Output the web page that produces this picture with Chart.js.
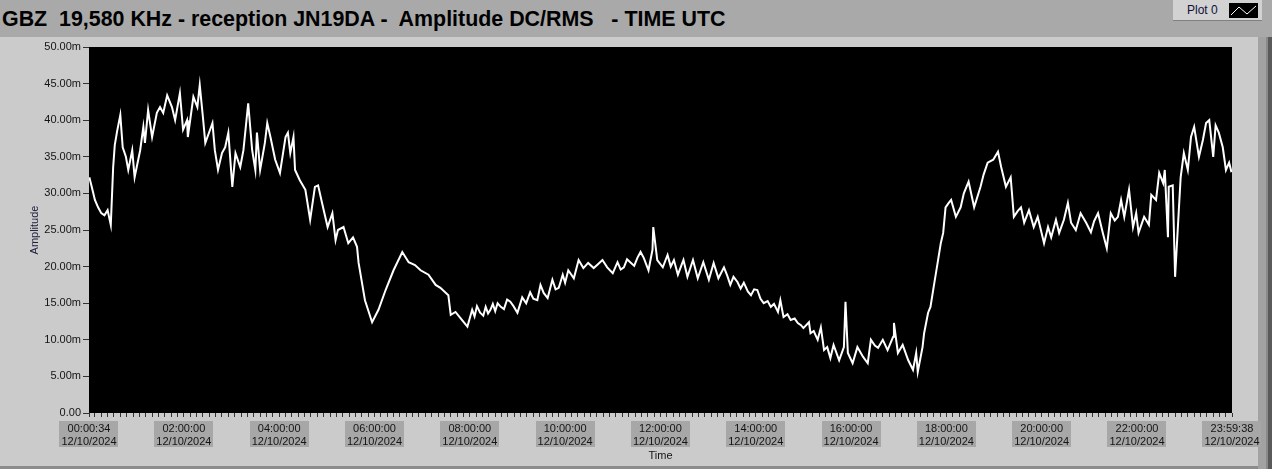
<!DOCTYPE html>
<html>
<head>
<meta charset="utf-8">
<script src="https://cdn.jsdelivr.net/npm/chart.js@4"></script>
<style>
  body { margin: 0; width: 1272px; height: 469px; background: #a9a9a9; position: relative; overflow: hidden; font-family: "Liberation Sans", Arial, sans-serif; }
  #title { position: absolute; left: 2px; top: 7px; font-weight: bold; font-size: 21.4px; color: #000; white-space: pre; }
  #legend { position: absolute; left: 1173px; top: 0; width: 89px; height: 20px; background: #d2d2d2; border-bottom: 1px solid #808080; }
  #legend span { position: absolute; left: 14px; top: 3px; font-size: 12px; color: #10103a; }
  #legend svg { position: absolute; left: 56px; top: 3px; }
  #panel { position: absolute; left: 0; top: 37px; width: 1258px; height: 429px; background: #cbcbcb; border-bottom: 3px solid #8c8c8c; }
  #rstrip { position: absolute; left: 1258px; top: 37px; width: 14px; height: 432px; background: linear-gradient(to right, #a2a2a2 0, #a2a2a2 8px, #8a8a8a 8px, #8a8a8a 10px, #5a5a5a 10px); }
  #chart { position: absolute; left: 0; top: 37px; }
</style>
</head>
<body>
<div id="title">GBZ  19,580 KHz - reception JN19DA -  Amplitude DC/RMS   - TIME UTC</div>
<div id="legend"><span>Plot 0</span><svg width="29" height="15"><rect width="29" height="15" fill="#000"/><polyline points="2,12 10,4 18,11 27,3" fill="none" stroke="#fff" stroke-width="1"/></svg></div>
<div id="panel"></div>
<div id="rstrip"></div>
<canvas id="chart" width="1272" height="432"></canvas>
<script>
// sample times in minutes after midnight UTC, 12/10/2024
var minutes = [1, 4, 8, 12, 16, 20, 24, 28, 31, 33, 36, 40, 43, 47, 50, 55, 58, 65, 69, 71, 75, 80, 86, 90, 94, 99,
  105, 109, 115, 119, 124, 125, 132, 137, 140, 144, 147, 153, 156, 159, 163, 168, 172, 176, 181, 185, 191, 195,
  201, 206, 210, 212, 216, 222, 225, 229, 235, 241, 248, 251, 254, 258, 260, 266, 273, 279, 285, 289, 294,
  301, 307, 311, 314, 321, 327, 333, 338, 340, 348, 357, 365, 374, 384, 395, 403, 411, 418, 428, 437, 443,
  453, 456, 462, 468, 477, 483, 486, 489, 493, 497, 500, 503, 506, 509, 512, 515, 519, 523, 527, 531, 535,
  540, 546, 551, 556, 560, 565, 569, 573, 578, 584, 588, 592, 597, 600, 604, 611, 617,
  623, 629, 636, 641, 647, 653, 660, 666, 670, 674, 678, 682, 687, 691, 695, 699, 705, 710, 711, 716, 723, 729, 733, 737, 742, 749,
  754, 761, 767, 774, 781, 787, 793, 800, 804, 808, 812, 817, 821, 825, 830, 834, 838, 842, 846, 850, 855, 859, 863, 868, 871, 875, 880, 884, 889, 893, 897, 900,
  907, 909, 913, 918, 922, 926, 930, 934, 938, 945, 951, 953, 956, 962, 968, 975, 981, 985, 990, 994, 1000, 1006, 1013,
  1014, 1019, 1025, 1032, 1038, 1042, 1044, 1050, 1052, 1057, 1060, 1064, 1069, 1073, 1076, 1079, 1083, 1086,
  1092, 1098, 1102, 1108, 1115, 1123, 1127, 1132, 1139, 1145, 1149, 1155, 1161, 1165, 1170, 1174, 1178, 1184, 1190,
  1195, 1199, 1203, 1208, 1212, 1218, 1222, 1228, 1233, 1237, 1243, 1249, 1256, 1262, 1266, 1271, 1277, 1282,
  1287, 1292, 1296, 1300, 1304, 1310, 1315, 1319, 1322, 1329, 1335, 1338, 1344, 1348, 1353, 1355, 1359, 1360,
  1365, 1368, 1372, 1375, 1379, 1384, 1388, 1392, 1398, 1403, 1407, 1411, 1416, 1419, 1423, 1428, 1432,
  1436, 1439];
// amplitude in mV
var amplitude = [32.2, 30.9, 29.1, 28.1, 27.3, 27.0, 27.7, 25.7, 33.6, 36.6, 38.5, 40.7, 36.3, 35.0, 33.2, 35.9, 32.2, 35.9, 39.1, 36.9, 41.4, 37.7, 41.0, 41.8, 41.0, 43.4,
  41.8, 40.0, 43.7, 38.7, 40.0, 37.7, 43.2, 41.8, 44.8, 40.4, 36.9, 38.7, 39.6, 35.9, 33.2, 35.5, 36.3, 38.3, 30.9, 35.5, 33.6, 35.9,
  42.3, 35.9, 33.2, 38.3, 33.2, 36.9, 39.6, 37.7, 34.6, 32.8, 37.7, 38.3, 35.5, 37.7, 33.2, 31.8, 30.5, 26.4, 30.9, 31.1, 28.7,
  25.4, 27.3, 23.6, 25.0, 25.4, 23.2, 24.0, 22.7, 20.5, 15.4, 12.4, 14.1, 16.8, 19.5, 22.0, 20.6, 20.2, 19.5, 18.9, 17.5, 17.1,
  16.1, 13.4, 13.8, 13.0, 11.8, 14.1, 13.2, 14.6, 13.7, 13.3, 14.5, 13.6, 14.1, 14.9, 13.9, 15.0, 14.5, 14.2, 15.5, 15.2, 14.6,
  13.7, 15.8, 15.0, 16.5, 15.6, 15.4, 17.5, 16.4, 15.7, 18.2, 16.9, 17.1, 18.9, 17.8, 19.5, 18.4, 20.9,
  19.8, 20.5, 19.8, 20.3, 20.9, 19.9, 19.1, 20.6, 19.6, 19.9, 21.0, 20.6, 20.1, 21.2, 22.0, 21.2, 19.5, 22.3, 25.4, 20.9, 19.9, 21.6, 20.0, 20.9, 18.9, 20.9,
  18.6, 20.9, 18.4, 20.6, 18.2, 20.5, 18.4, 19.9, 18.8, 17.5, 18.6, 17.9, 17.0, 17.8, 16.6, 16.1, 16.9, 16.8, 15.6, 15.0, 15.3, 14.5, 14.9, 13.8, 15.4, 13.1, 13.5, 12.7, 12.9, 12.3, 12.0, 11.6,
  12.4, 10.9, 11.2, 10.0, 11.7, 8.6, 9.0, 7.5, 9.3, 7.2, 9.0, 15.2, 8.2, 6.8, 9.0, 7.7, 6.8, 10.0, 9.2, 8.9, 10.0, 8.6, 10.4,
  12.3, 8.2, 9.3, 7.2, 5.9, 8.2, 5.6, 9.0, 10.9, 13.7, 14.5, 17.2, 20.5, 23.2, 24.6, 28.1, 28.7, 29.1,
  26.8, 28.1, 30.0, 31.6, 28.1, 30.9, 32.6, 34.2, 34.6, 35.7, 33.6, 30.9, 32.2, 26.8, 27.6, 28.1, 26.0, 27.7, 25.4,
  26.8, 25.0, 23.2, 25.4, 24.0, 26.4, 24.6, 26.4, 28.7, 26.0, 25.0, 27.3, 26.0, 24.7, 26.2, 27.3, 24.6, 22.5,
  27.3, 26.3, 26.8, 29.1, 26.8, 30.5, 25.4, 27.3, 24.6, 26.8, 25.7, 29.8, 29.1, 32.8, 31.4, 33.2, 24.0, 30.9,
  31.1, 18.6, 26.4, 32.2, 35.5, 33.2, 37.7, 39.1, 35.0, 37.3, 39.6, 40.0, 35.0, 39.3, 38.3, 36.3, 33.2,
  34.2, 32.9];

var tickTimes = ["00:00:34", "02:00:00", "04:00:00", "06:00:00", "08:00:00", "10:00:00", "12:00:00",
  "14:00:00", "16:00:00", "18:00:00", "20:00:00", "22:00:00", "23:59:38"];
var tickDate = "12/10/2024";

function toMin(t) {
  var p = t.split(":");
  return +p[0] * 60 + +p[1] + +p[2] / 60;
}

var tickPos = tickTimes.map(toMin);
var xMin = tickPos[0];
var xMax = tickPos[tickPos.length - 1];

// major ticks at labels, small ticks every 8 minutes in between
var allTicks = tickPos.map(function (v) { return { value: v }; });
for (var m = 8; m < xMax - 2; m += 8) {
  if (m % 120 !== 0) allTicks.push({ value: m });
}
allTicks.sort(function (a, b) { return a.value - b.value; });

var points = minutes.map(function (t, i) { return { x: Math.max(t, xMin), y: amplitude[i] }; });

// black plot area + grey boxes behind the time labels
var plotBg = {
  id: "plotBg",
  beforeDraw: function (chart) {
    var a = chart.chartArea, c = chart.ctx, xs = chart.scales.x;
    c.save();
    c.fillStyle = "#000";
    c.fillRect(a.left, a.top, a.right - a.left, a.bottom - a.top);
    c.font = '11px "Liberation Sans"';
    c.fillStyle = "#a7a7a7";
    tickPos.forEach(function (v, i) {
      var px = xs.getPixelForValue(v);
      var w = Math.max(c.measureText(tickTimes[i]).width, c.measureText(tickDate).width) + 4;
      c.fillRect(Math.round(px - w / 2), xs.top + 8, Math.round(w), 26);
    });
    c.restore();
  }
};

var labelFont = { family: "Liberation Sans", size: 11 };

new Chart(document.getElementById("chart"), {
  type: "line",
  data: {
    datasets: [{
      label: "Plot 0",
      data: points,
      borderColor: "#ffffff",
      borderWidth: 2,
      pointRadius: 0,
      tension: 0
    }]
  },
  options: {
    responsive: false,
    animation: false,
    layout: { padding: { top: 10, right: 40, bottom: 0, left: 0 } },
    plugins: { legend: { display: false }, tooltip: { enabled: false } },
    scales: {
      x: {
        type: "linear",
        min: xMin,
        max: xMax,
        afterBuildTicks: function (s) { s.ticks = allTicks.slice(); },
        afterFit: function (s) { s.height = 56; },
        grid: { drawOnChartArea: false, drawTicks: true, tickLength: 4, color: "#333" },
        border: { display: false },
        ticks: {
          autoSkip: false,
          maxRotation: 0,
          padding: 5,
          color: "#141414",
          font: labelFont,
          callback: function (v) {
            for (var i = 0; i < tickPos.length; i++) {
              if (Math.abs(tickPos[i] - v) < 1e-6) return [tickTimes[i], tickDate];
            }
            return "";
          }
        },
        title: { display: true, text: "Time", color: "#141414", font: labelFont, padding: { top: 0, bottom: 6 } }
      },
      y: {
        min: 0,
        max: 50,
        afterFit: function (s) { s.width = 89; },
        grid: { drawOnChartArea: false, drawTicks: true, tickLength: 6, color: "#333" },
        border: { display: false },
        ticks: {
          stepSize: 5,
          padding: 2,
          color: "#141414",
          font: labelFont,
          callback: function (v) { return v === 0 ? "0.00" : v.toFixed(2) + "m"; }
        },
        title: { display: true, text: "Amplitude", color: "#1c1c3c", font: labelFont, padding: { top: 28, bottom: 0 } }
      }
    }
  },
  plugins: [plotBg]
});
</script>
</body>
</html>
